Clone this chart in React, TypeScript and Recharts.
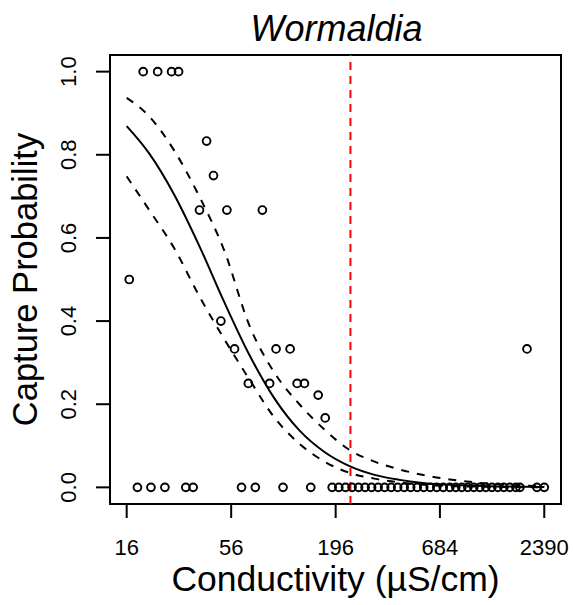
import { ComposedChart, Line, ReferenceArea, ReferenceLine, Scatter, XAxis, YAxis } from 'recharts';

const FONT = '"Liberation Sans", Arial, Helvetica, sans-serif';

// axis ticks (log-spaced conductivity as printed on the axis)
const conductivityTicks = [16, 56, 196, 684, 2390];
const probabilityTicks = [0, 0.2, 0.4, 0.6, 0.8, 1];
const thresholdConductivity = 234;

// observed capture proportions per site
const obsConductivity = [
  19.5, 23.2, 27.4, 29.8,
  41.7,
  45.3,
  38.3, 53.2, 81.4,
  16.5,
  49.5,
  58.3, 95.9, 113.5, 1943,
  68.8, 88.8, 123.5, 134.8,
  158.9,
  172.9,
  18.2, 21.4, 25.3, 32.5, 35.5, 63.4, 74.8, 104.3, 145.4, 188, 203.5, 220.6, 238.5, 257.9,
  278.9, 301.5, 326, 352.5, 381.2, 412.1, 445.6, 481.8, 521, 563.3, 609, 658.5, 712, 769.9,
  827.4, 889.2, 955.6, 1027, 1104, 1186, 1275, 1370, 1472, 1582, 1701, 1784, 2189, 2390,
];
const obsCapture = [
  1, 1, 1, 1,
  0.833,
  0.75,
  0.667, 0.667, 0.667,
  0.5,
  0.4,
  0.333, 0.333, 0.333, 0.333,
  0.25, 0.25, 0.25, 0.25,
  0.222,
  0.167,
  0, 0, 0, 0, 0, 0, 0, 0, 0, 0, 0, 0, 0, 0,
  0, 0, 0, 0, 0, 0, 0, 0, 0, 0, 0, 0, 0, 0,
  0, 0, 0, 0, 0, 0, 0, 0, 0, 0, 0, 0, 0, 0,
];

// fitted logistic curve and its confidence band
const curveConductivity = [16, 20.9, 28.3, 38.2, 51.5, 69.6, 94, 126.9, 171.4, 231.5, 312.6, 422.2, 570.2, 770, 1040, 1404, 2390];
const fitted = [0.869, 0.804, 0.704, 0.581, 0.446, 0.319, 0.214, 0.137, 0.085, 0.051, 0.03, 0.018, 0.01, 0.006, 0.004, 0.002, 0.001];
const upperCI = [0.937, 0.893, 0.81, 0.7, 0.57, 0.39, 0.276, 0.2, 0.139, 0.09, 0.062, 0.043, 0.029, 0.019, 0.012, 0.007, 0.003];
const lowerCI = [0.748, 0.668, 0.575, 0.46, 0.357, 0.26, 0.168, 0.105, 0.062, 0.035, 0.021, 0.012, 0.006, 0.003, 0.002, 0.001, 0.0003];

const curveRows = curveConductivity.map((x, i) => ({ x, fit: fitted[i], upper: upperCI[i], lower: lowerCI[i] }));
const obsRows = obsConductivity.map((x, i) => ({ x, y: obsCapture[i] }));

const XTick = ({ x, y, payload }: any) => (
  <text x={x} y={y + 37} textAnchor="middle" fontSize={22} fontFamily={FONT} fill="#000">
    {payload.value}
  </text>
);

const YTick = ({ x, y, payload }: any) => {
  const bx = x - 20;
  return (
    <text x={bx} y={y} transform={`rotate(-90, ${bx}, ${y})`} textAnchor="middle" fontSize={22} fontFamily={FONT} fill="#000">
      {Number(payload.value).toFixed(1)}
    </text>
  );
};

const renderXTitle = ({ viewBox }: any) => (
  <text x={viewBox.x + viewBox.width / 2} y={viewBox.y + 87} textAnchor="middle" fontSize={35.5} fontFamily={FONT} fill="#000">
    Conductivity (µS/cm)
  </text>
);

const renderYTitle = ({ viewBox }: any) => {
  const cx = viewBox.x + 37;
  const cy = viewBox.y + viewBox.height / 2;
  return (
    <text x={cx} y={cy} transform={`rotate(-90, ${cx}, ${cy})`} textAnchor="middle" fontSize={34.5} fontFamily={FONT} fill="#000">
      Capture Probability
    </text>
  );
};

const renderTitle = ({ viewBox }: any) => (
  <text x={viewBox.x + viewBox.width / 2 + 1} y={viewBox.y - 14} textAnchor="middle" fontSize={36} fontStyle="italic" fontFamily={FONT} fill="#000">
    Wormaldia
  </text>
);

const OpenCircle = ({ cx, cy }: any) => <circle cx={cx} cy={cy} r={3.9} fill="none" stroke="#000" strokeWidth={1.9} />;

export default function App() {
  return (
    <div style={{ width: 573, height: 605, background: '#fff' }}>
      <style>{'body{margin:0}'}</style>
      <ComposedChart width={573} height={605} data={curveRows} margin={{ top: 55, right: 12, bottom: 0, left: 0 }}>
        <XAxis
          dataKey="x"
          type="number"
          scale="log"
          domain={[13.1, 2921]}
          allowDataOverflow
          ticks={conductivityTicks}
          interval={0}
          height={101}
          tickSize={14}
          tickMargin={0}
          axisLine={false}
          tickLine={{ stroke: '#000', strokeWidth: 2 }}
          tick={<XTick />}
          label={renderXTitle}
        />
        <YAxis
          type="number"
          domain={[-0.04, 1.04]}
          allowDataOverflow
          ticks={probabilityTicks}
          interval={0}
          width={110}
          tickSize={14}
          tickMargin={0}
          axisLine={false}
          tickLine={{ stroke: '#000', strokeWidth: 2 }}
          tick={<YTick />}
          label={renderYTitle}
        />
        <Line dataKey="upper" type="monotone" stroke="#000" strokeWidth={2} strokeDasharray="8 8" dot={false} isAnimationActive={false} />
        <Line dataKey="fit" type="monotone" stroke="#000" strokeWidth={2} dot={false} isAnimationActive={false} />
        <Line dataKey="lower" type="monotone" stroke="#000" strokeWidth={2} strokeDasharray="8 8" dot={false} isAnimationActive={false} />
        <Scatter data={obsRows} dataKey="y" shape={OpenCircle} isAnimationActive={false} />
        <ReferenceLine x={thresholdConductivity} stroke="#ff0000" strokeWidth={2} strokeDasharray="8 6" ifOverflow="visible" />
        <ReferenceArea x1={13.1} x2={2921} y1={-0.04} y2={1.04} fill="none" stroke="#000" strokeWidth={2} ifOverflow="visible" label={renderTitle} />
      </ComposedChart>
    </div>
  );
}
